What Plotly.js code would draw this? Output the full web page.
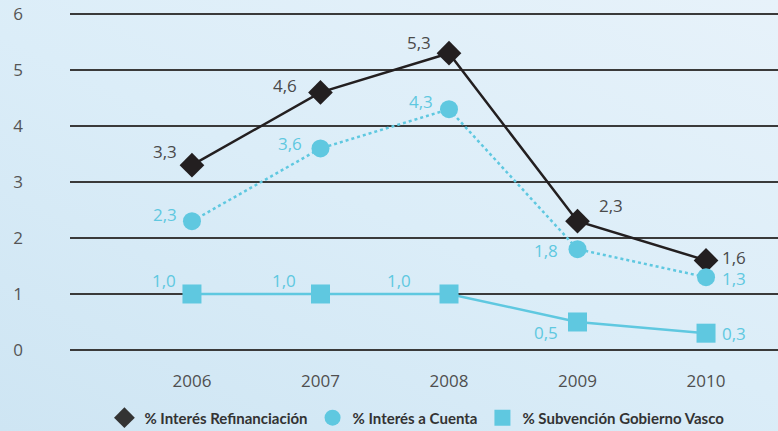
<!DOCTYPE html>
<html>
<head>
<meta charset="utf-8">
<script src="https://cdn.plot.ly/plotly-3.0.1.min.js"></script>
<style>
  html, body { margin: 0; padding: 0; }
  body {
    width: 778px; height: 431px; overflow: hidden;
    background: linear-gradient(25deg, #cee5f3 0%, #dbedf8 50%, #e7f2fa 100%);
  }
  #chart { width: 778px; height: 431px; }
</style>
</head>
<body>
<div id="chart"></div>
<script>
// Years on the horizontal axis
const years = [2006, 2007, 2008, 2009, 2010];

// Percentages per year
const interesRefinanciacion = [3.3, 4.6, 5.3, 2.3, 1.6];
const interesACuenta = [2.3, 3.6, 4.3, 1.8, 1.3];
const subvencionGobiernoVasco = [1.0, 1.0, 1.0, 0.5, 0.3];

// Series names
const seriesNames = [
  '% Interés Refinanciación',
  '% Interés a Cuenta',
  '% Subvención Gobierno Vasco'
];

// Y axis ticks
const yTicks = [0, 1, 2, 3, 4, 5, 6];

const DARK = '#231f20';
const BLUE = '#5fc8e0';
const fmt = v => v.toFixed(1).replace('.', ',');

// Pixel offsets of each value label from its marker, per series
const labelShifts = [
  [[-27, 14], [-35, 7], [-30, 11], [33, 16], [28, 3]],
  [[-27, 7], [-30, 5], [-28, 8], [-32, -1], [28, -1]],
  [[-28, 13], [-36, 13], [-50, 13], [-32, -11], [28, 0]]
];
const labelColors = ['#4a4a4a', BLUE, BLUE];

const seriesValues = [interesRefinanciacion, interesACuenta, subvencionGobiernoVasco];

const annotations = [];
seriesValues.forEach((vals, s) => {
  vals.forEach((v, i) => {
    annotations.push({
      x: years[i], y: v, xref: 'x', yref: 'y',
      text: fmt(v), showarrow: false,
      xshift: labelShifts[s][i][0], yshift: labelShifts[s][i][1],
      font: { family: 'Open Sans, sans-serif', size: 17, color: labelColors[s] }
    });
  });
});

const traces = [
  {
    x: years, y: interesRefinanciacion, type: 'scatter', mode: 'lines+markers',
    line: { color: DARK, width: 2.5 },
    marker: { symbol: 'diamond', size: 19, color: DARK },
    showlegend: false, hoverinfo: 'skip', cliponaxis: false
  },
  {
    x: years, y: interesACuenta, type: 'scatter', mode: 'lines+markers',
    line: { color: BLUE, width: 2.5, dash: 'dot' },
    marker: { symbol: 'circle', size: 18, color: BLUE },
    showlegend: false, hoverinfo: 'skip', cliponaxis: false
  },
  {
    x: years, y: subvencionGobiernoVasco, type: 'scatter', mode: 'lines+markers',
    line: { color: BLUE, width: 2.5 },
    marker: { symbol: 'square', size: 19, color: BLUE },
    showlegend: false, hoverinfo: 'skip', cliponaxis: false
  },
  // Legend entries (markers only)
  { x: [null], y: [null], type: 'scatter', mode: 'markers', name: seriesNames[0],
    marker: { symbol: 'diamond', size: 20, color: '#333333' } },
  { x: [null], y: [null], type: 'scatter', mode: 'markers', name: seriesNames[1],
    marker: { symbol: 'circle', size: 20, color: BLUE } },
  { x: [null], y: [null], type: 'scatter', mode: 'markers', name: seriesNames[2],
    marker: { symbol: 'square', size: 20, color: BLUE } }
];

const layout = {
  width: 778, height: 431,
  margin: { l: 70, r: 0, t: 12, b: 79, autoexpand: false },
  paper_bgcolor: 'rgba(0,0,0,0)',
  plot_bgcolor: 'rgba(0,0,0,0)',
  annotations: annotations,
  xaxis: {
    range: [2005.051, 2010.56],
    tickvals: years, ticktext: years.map(String),
    showgrid: false, zeroline: false, showline: false, ticks: '',
    tickfont: { family: 'Open Sans, sans-serif', size: 17, color: '#4f4f4f' },
    ticklabelstandoff: 17
  },
  yaxis: {
    range: [-0.036, 6.036],
    tickvals: yTicks, ticktext: yTicks.map(String),
    showgrid: true, gridcolor: '#3a3a3a', gridwidth: 2,
    zeroline: false, showline: false, ticks: '',
    tickfont: { family: 'Open Sans, sans-serif', size: 17, color: '#555555' },
    ticklabelstandoff: 46
  },
  showlegend: true,
  legend: {
    orientation: 'h', x: 0.49, xanchor: 'center', y: -0.194, yanchor: 'middle',
    font: { family: 'Lato, sans-serif', size: 15, color: '#333333', weight: 'bold' },
    bgcolor: 'rgba(0,0,0,0)', itemclick: false, itemdoubleclick: false
  }
};

Plotly.newPlot('chart', traces, layout, { displayModeBar: false, staticPlot: true });
</script>
</body>
</html>
